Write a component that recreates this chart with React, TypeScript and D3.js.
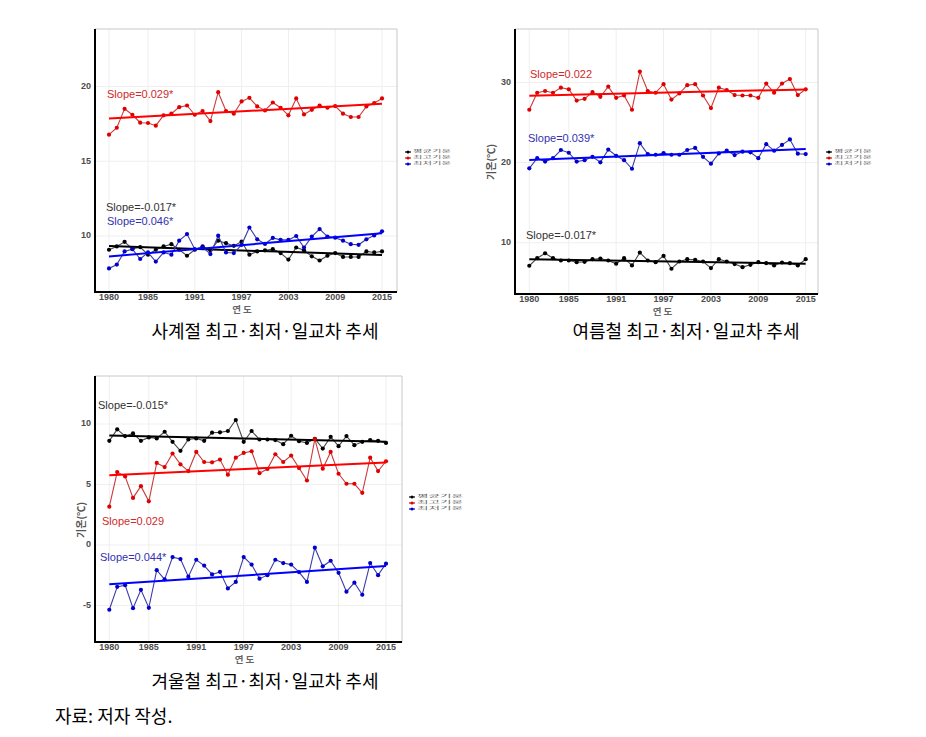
import React from "react";
import * as d3 from "d3";

// ---------- DATA ----------
const years = [
  1980, 1981, 1982, 1983, 1984, 1985, 1986, 1987, 1988, 1989, 1990, 1991,
  1992, 1993, 1994, 1995, 1996, 1997, 1998, 1999, 2000, 2001, 2002, 2003,
  2004, 2005, 2006, 2007, 2008, 2009, 2010, 2011, 2012, 2013, 2014, 2015,
];
const xTickYears = [1980, 1985, 1991, 1997, 2003, 2009, 2015];
const legendLabels = ["평균기온", "최고기온", "최저기온"];
const captions = [
  "사계절 최고·최저·일교차 추세",
  "여름철 최고·최저·일교차 추세",
  "겨울철 최고·최저·일교차 추세",
];
const sourceNote = "자료: 저자 작성.";
const yAxisTitle = "기온(℃)";
const xAxisTitle = "연 도";

// 사계절 (all seasons)
const allMean = [
  9.08, 9.3, 9.61, 9.14, 9.25, 8.75, 9.08, 9.3, 9.45, 9.08, 8.68, 9.08,
  9.3, 9.04, 9.69, 9.52, 9.34, 9.63, 8.75, 8.97, 9.04, 9.12, 8.86, 8.42,
  9.23, 9.04, 8.64, 8.36, 8.68, 8.86, 8.6, 8.6, 8.6, 8.97, 8.9, 8.97,
];
const allMax = [
  16.78, 17.24, 18.51, 18.11, 17.58, 17.56, 17.38, 18.07, 18.18, 18.62, 18.73, 18.11,
  18.36, 17.69, 19.62, 18.36, 18.18, 19.0, 19.24, 18.67, 18.4, 18.93, 18.58, 18.07,
  19.2, 18.13, 18.44, 18.73, 18.58, 18.69, 18.18, 17.96, 17.96, 18.67, 18.89, 19.2,
];
const allMin = [
  7.83, 8.09, 8.97, 9.12, 8.46, 8.9, 8.29, 8.9, 8.75, 9.69, 10.13, 9.12,
  9.25, 8.79, 10.02, 8.9, 8.86, 9.41, 10.57, 9.78, 9.47, 9.87, 9.74, 9.74,
  10.0, 9.23, 9.96, 10.46, 9.96, 9.89, 9.69, 9.45, 9.41, 9.78, 10.04, 10.31,
];

// 여름철 (summer)
const sumMean = [
  7.12, 8.07, 8.68, 8.07, 7.78, 7.78, 7.57, 7.61, 7.94, 8.02, 7.78, 7.37,
  8.07, 7.16, 8.77, 7.78, 7.57, 8.35, 6.75, 7.65, 7.94, 7.86, 7.65, 6.83,
  7.94, 7.65, 7.33, 6.95, 7.24, 7.57, 7.45, 7.16, 7.53, 7.45, 7.16, 7.94,
];
const sumMax = [
  26.6, 28.72, 28.94, 28.72, 29.36, 29.15, 27.74, 27.96, 28.81, 28.21, 29.49, 28.09,
  28.38, 26.6, 31.36, 28.94, 28.72, 29.79, 27.87, 28.64, 29.66, 29.79, 28.38, 26.81,
  29.36, 29.06, 28.43, 28.38, 28.38, 28.09, 29.87, 28.72, 29.87, 30.43, 28.43, 29.15,
];
const sumMin = [
  19.28, 20.55, 20.13, 20.55, 21.57, 21.23, 20.13, 20.3, 20.72, 20.04, 21.62, 20.85,
  20.3, 19.23, 22.43, 21.06, 20.98, 21.19, 20.98, 20.98, 21.57, 21.83, 20.72, 19.87,
  21.15, 21.49, 20.94, 21.36, 21.28, 20.55, 22.3, 21.49, 22.21, 22.89, 21.11, 21.06,
];

// 겨울철 (winter)
const winMean = [
  8.61, 9.56, 9.0, 9.22, 8.61, 8.89, 8.81, 9.36, 8.53, 7.78, 8.72, 8.81,
  8.61, 9.28, 9.31, 9.42, 10.33, 8.53, 9.42, 8.72, 8.72, 8.67, 8.33, 9.03,
  8.58, 8.44, 8.78, 7.97, 8.94, 8.17, 9.0, 8.25, 8.53, 8.67, 8.61, 8.44,
];
const winMax = [
  3.17, 6.03, 5.67, 3.89, 4.86, 3.61, 6.78, 6.44, 7.56, 6.67, 6.11, 7.69,
  6.86, 6.83, 7.06, 5.81, 7.22, 7.61, 7.75, 5.94, 6.28, 7.5, 6.86, 7.39,
  6.36, 5.33, 8.75, 6.31, 7.69, 5.89, 5.06, 5.06, 4.31, 7.22, 6.11, 6.92,
];
const winMin = [
  -5.35, -3.46, -3.32, -5.22, -3.7, -5.19, -2.08, -2.84, -1.0, -1.16, -2.62, -1.22,
  -1.7, -2.43, -2.22, -3.59, -3.05, -1.0, -1.62, -2.78, -2.49, -1.22, -1.49, -1.62,
  -2.24, -3.05, -0.22, -1.76, -1.3, -2.3, -3.86, -3.11, -4.11, -1.49, -2.49, -1.54,
];

const allSlopes = ["Slope=-0.017*", "Slope=0.029*", "Slope=0.046*"];
const sumSlopes = ["Slope=-0.017*", "Slope=0.022", "Slope=0.039*"];
const winSlopes = ["Slope=-0.015*", "Slope=0.029", "Slope=0.044*"];

const allYTicks = [10, 15, 20];
const sumYTicks = [10, 20, 30];
const winYTicks = [-5, 0, 5, 10];

// ---------- STYLE ----------
const SERIES_STYLE = [
  { line: "#4a4a4a", point: "#000000", trend: "#000000", text: "#333333" },
  { line: "#cc3a3a", point: "#e00000", trend: "#ff0000", text: "#d02a2a" },
  { line: "#3c3ca8", point: "#0000cc", trend: "#0000ff", text: "#3232b0" },
];

function regression(xs: number[], ys: number[]) {
  const mx = d3.mean(xs) as number;
  const my = d3.mean(ys) as number;
  let num = 0;
  let den = 0;
  xs.forEach((x, i) => {
    num += (x - mx) * (ys[i] - my);
    den += (x - mx) * (x - mx);
  });
  const b = num / den;
  const a = my - b * mx;
  return (x: number) => a + b * x;
}

type PanelProps = {
  frame: { left: number; right: number; top: number; bottom: number };
  xRange: [number, number];
  yPix: [number, number];
  yRef: [number, number];
  yTicks: number[];
  series: number[][];
  slopes: string[];
  slopePos: [number, number][];
  legendPos: { x: number; y: number; dy: number; w: number };
  yTitlePos?: [number, number];
};

function Panel(p: PanelProps) {
  const { frame } = p;
  const x = d3.scaleLinear().domain([years[0], years[years.length - 1]]).range(p.xRange);
  const y = d3.scaleLinear().domain(p.yRef).range(p.yPix);
  const line = d3
    .line<number>()
    .x((_, i) => x(years[i]))
    .y((v) => y(v));
  const font = "Liberation Sans, Arial, sans-serif";
  return (
    <g>
      {xTickYears.map((t) => (
        <line key={"gx" + t} x1={x(t)} x2={x(t)} y1={frame.top} y2={frame.bottom} stroke="#efefef" strokeWidth={1} />
      ))}
      {p.yTicks.map((t) => (
        <line key={"gy" + t} x1={frame.left} x2={frame.right} y1={y(t)} y2={y(t)} stroke="#efefef" strokeWidth={1} />
      ))}
      <line x1={frame.left} x2={frame.right} y1={frame.top} y2={frame.top} stroke="#c8c8c8" strokeWidth={1} />
      <line x1={frame.right} x2={frame.right} y1={frame.top} y2={frame.bottom} stroke="#c8c8c8" strokeWidth={1} />
      {p.series.map((vals, si) => {
        const st = SERIES_STYLE[si];
        const f = regression(years, vals);
        const y0 = years[0];
        const y1 = years[years.length - 1];
        return (
          <g key={"s" + si}>
            <path d={line(vals) || ""} fill="none" stroke={st.line} strokeWidth={1.1} />
            {vals.map((v, i) => (
              <circle key={i} cx={x(years[i])} cy={y(v)} r={2.1} fill={st.point} />
            ))}
            <line x1={x(y0)} x2={x(y1)} y1={y(f(y0))} y2={y(f(y1))} stroke={st.trend} strokeWidth={2} />
          </g>
        );
      })}
      {p.slopes.map((s, si) => (
        <text key={"sl" + si} x={p.slopePos[si][0]} y={p.slopePos[si][1]} fill={SERIES_STYLE[si].text} fontSize={11} fontFamily={font} dominantBaseline="middle">
          {s}
        </text>
      ))}
      <line x1={frame.left} x2={frame.left} y1={frame.top} y2={frame.bottom + 1} stroke="#000" strokeWidth={2} />
      <line x1={frame.left - 1} x2={frame.right} y1={frame.bottom} y2={frame.bottom} stroke="#000" strokeWidth={2} />
      {p.yTicks.map((t) => (
        <text key={"yt" + t} x={frame.left - 4} y={y(t)} textAnchor="end" dominantBaseline="middle" fontSize={9} fontWeight="bold" fill="#4d4d4d" fontFamily={font}>
          {t}
        </text>
      ))}
      {xTickYears.map((t) => (
        <text key={"xt" + t} x={x(t)} y={frame.bottom + 6} textAnchor="middle" dominantBaseline="middle" fontSize={9} fontWeight="bold" fill="#4d4d4d" fontFamily={font}>
          {t}
        </text>
      ))}
      <text x={(frame.left + frame.right) / 2 - 4} y={frame.bottom + 18} textAnchor="middle" dominantBaseline="middle" fontSize={9.5} fontWeight="bold" fill="#666" fontFamily="Noto Sans CJK KR">
        {xAxisTitle}
      </text>
      {p.yTitlePos && (
        <text transform={`translate(${p.yTitlePos[0]},${p.yTitlePos[1]}) rotate(-90)`} textAnchor="middle" dominantBaseline="middle" fontSize={10} fontWeight="bold" fill="#555" fontFamily="Noto Sans CJK KR">
          {yAxisTitle}
        </text>
      )}
      {legendLabels.map((lab, i) => {
        const ly = p.legendPos.y + i * p.legendPos.dy;
        const lx = p.legendPos.x;
        return (
          <g key={"lg" + i}>
            <line x1={lx} x2={lx + 6} y1={ly} y2={ly} stroke={SERIES_STYLE[i].point} strokeWidth={1.2} />
            <circle cx={lx + 3} cy={ly} r={1.5} fill={SERIES_STYLE[i].point} />
            <text transform={`translate(${lx + 8},${ly}) scale(1,0.5)`} dominantBaseline="middle" fontSize={8} fill="#666" fontFamily="Noto Sans CJK KR" textLength={p.legendPos.w} lengthAdjust="spacingAndGlyphs">
              {lab}
            </text>
          </g>
        );
      })}
    </g>
  );
}

export default function App() {
  const capFont = "Noto Sans CJK KR";
  return (
    <svg width={926} height={737} style={{ position: "absolute", left: 0, top: 0, background: "#fff" }}>
      <rect x={0} y={0} width={926} height={737} fill="#fff" />
      <Panel
        frame={{ left: 95, right: 397, top: 29, bottom: 292 }}
        xRange={[109, 382]}
        yRef={[10, 20]}
        yPix={[236, 86.5]}
        yTicks={allYTicks}
        series={[allMean, allMax, allMin]}
        slopes={allSlopes}
        slopePos={[[106, 208], [107, 95], [107, 222]]}
        legendPos={{ x: 405, y: 152, dy: 6, w: 38 }}
      />
      <Panel
        frame={{ left: 515, right: 818, top: 29, bottom: 294 }}
        xRange={[529.3, 805.7]}
        yRef={[10, 30]}
        yPix={[242.7, 82.5]}
        yTicks={sumYTicks}
        series={[sumMean, sumMax, sumMin]}
        slopes={sumSlopes}
        slopePos={[[526, 236], [530, 75], [528, 139]]}
        legendPos={{ x: 826, y: 152, dy: 6, w: 38 }}
        yTitlePos={[492, 162]}
      />
      <Panel
        frame={{ left: 95, right: 402, top: 376, bottom: 642 }}
        xRange={[109.3, 386]}
        yRef={[0, 10]}
        yPix={[545, 424]}
        yTicks={winYTicks}
        series={[winMean, winMax, winMin]}
        slopes={winSlopes}
        slopePos={[[98, 406], [102, 522], [100, 558]]}
        legendPos={{ x: 409, y: 497, dy: 6, w: 46 }}
        yTitlePos={[82, 520]}
      />
      <text x={265} y={333} textAnchor="middle" dominantBaseline="middle" fontSize={18} fontFamily={capFont} fill="#000">
        {captions[0]}
      </text>
      <text x={686} y={333} textAnchor="middle" dominantBaseline="middle" fontSize={18} fontFamily={capFont} fill="#000">
        {captions[1]}
      </text>
      <text x={265} y={683} textAnchor="middle" dominantBaseline="middle" fontSize={18} fontFamily={capFont} fill="#000">
        {captions[2]}
      </text>
      <text x={55} y={718} dominantBaseline="middle" fontSize={18} fontFamily={capFont} fill="#000">
        {sourceNote}
      </text>
    </svg>
  );
}
